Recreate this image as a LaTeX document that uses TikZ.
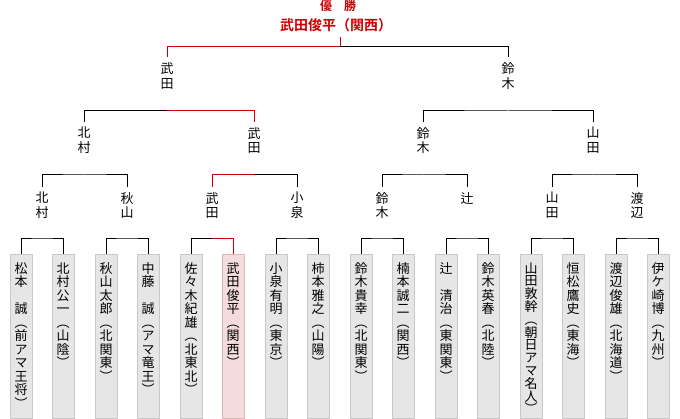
\documentclass[tikz,border=0pt]{standalone}
\usepackage{fontspec}
\usepackage{xcolor}
\usepackage{tikz}
\newfontfamily\jpfont[RawFeature=+vert]{Noto Sans CJK JP}
\newfontfamily\jphfont[BoldFont={Noto Sans CJK JP Bold}]{Noto Sans CJK JP}
\definecolor{winred}{HTML}{CC0000}
\definecolor{boxfill}{HTML}{E6E6E6}
\definecolor{boxline}{HTML}{C8C8C8}
\definecolor{winfill}{HTML}{F5DCDC}
\definecolor{winline}{HTML}{DDB8B8}
\makeatletter
\newcommand\tate[2][13.5pt]{\vbox{\baselineskip=#1\lineskip=0pt\lineskiplimit=-\maxdimen
  \@tfor\tatech:=#2\do{\hbox to 1em{\hss\tatech\hss}}}}
\makeatother
\newcommand\pbox[2][13.5pt]{\vbox to 164pt{\vskip 8pt\tate[#1]{#2}\vss}}

\begin{document}
\begin{tikzpicture}[x=1pt,y=-1pt,
	player/.style={draw=boxline,fill=boxfill,line width=1pt,minimum width=22pt,inner sep=0pt,anchor=north,font=\jpfont\fontsize{13pt}{13.5pt}\selectfont},
	champbox/.style={player,draw=winline,fill=winfill},
	lbl/.style={anchor=north,inner xsep=0pt,inner ysep=5pt,font=\jpfont\fontsize{13pt}{15pt}\selectfont},
	bracket/.style={line width=1pt},
	win/.style={bracket,draw=winred}]
	\useasboundingbox (0,0) rectangle (680,419);
	% title
	\node[text=winred,inner sep=0pt,font=\jphfont\bfseries\fontsize{12pt}{12pt}\selectfont] (title) at (338,6) {優　勝};
	\node[text=winred,inner xsep=0pt,inner ysep=5pt,font=\jphfont\bfseries\fontsize{14pt}{14pt}\selectfont] (champ) at (336,25) {武田俊平（関西）};
	% players
	\node[player] (p1) at (21,254) {\pbox{松本　誠（前アマ王将）}};
	\node[player] (p2) at (63,254) {\pbox{北村公一（山陰）}};
	\node[player] (p3) at (106,254) {\pbox{秋山太郎（北関東）}};
	\node[player] (p4) at (148,254) {\pbox{中藤　誠（アマ竜王）}};
	\node[player] (p5) at (191,254) {\pbox{佐々木紀雄（北東北）}};
	\node[champbox] (p6) at (233,254) {\pbox{武田俊平（関西）}};
	\node[player] (p7) at (276,254) {\pbox{小泉有明（東京）}};
	\node[player] (p8) at (318,254) {\pbox{柿本雅之（山陽）}};
	\node[player] (p9) at (361,254) {\pbox{鈴木貴幸（北関東）}};
	\node[player] (p10) at (403,254) {\pbox{楠本誠二（関西）}};
	\node[player] (p11) at (446,254) {\pbox{辻　清治（東関東）}};
	\node[player] (p12) at (488,254) {\pbox{鈴木英春（北陸）}};
	\node[player] (p13) at (531,254) {\pbox[12.8pt]{山田敦幹（朝日アマ名人）}};
	\node[player] (p14) at (573,254) {\pbox{恒松鷹史（東海）}};
	\node[player] (p15) at (616,254) {\pbox{渡辺俊雄（北海道）}};
	\node[player] (p16) at (658,254) {\pbox{伊ケ崎博（九州）}};
	% winners of each round
	\node[lbl] (s1) at (42,187) {\tate[14.5pt]{北村}};
	\node[lbl] (s2) at (127,187) {\tate[14.5pt]{秋山}};
	\node[lbl] (s3) at (212,187) {\tate[14.5pt]{武田}};
	\node[lbl] (s4) at (297,187) {\tate[14.5pt]{小泉}};
	\node[lbl] (s5) at (382,187) {\tate[14.5pt]{鈴木}};
	\node[lbl] (s6) at (467,187) {\tate[14.5pt]{辻}};
	\node[lbl] (s7) at (552,187) {\tate[14.5pt]{山田}};
	\node[lbl] (s8) at (637,187) {\tate[14.5pt]{渡辺}};
	\node[lbl] (q1) at (84,122) {\tate[14.5pt]{北村}};
	\node[lbl] (q2) at (254,122) {\tate[14.5pt]{武田}};
	\node[lbl] (q3) at (423,122) {\tate[14.5pt]{鈴木}};
	\node[lbl] (q4) at (593,122) {\tate[14.5pt]{山田}};
	\node[lbl] (f1) at (167,57) {\tate[15pt]{武田}};
	\node[lbl] (f2) at (508,57) {\tate[15pt]{鈴木}};
	\coordinate (fin) at (340,47);
	% brackets
	\foreach \a/\b/\m in {1/2/1,3/4/2,7/8/4,9/10/5,11/12/6,13/14/7,15/16/8}
		\draw[bracket] (p\a.north) |- (s\m |- 0,239) -| (p\b.north);
	\draw[bracket] (p5.north) |- (s3 |- 0,239);
	\draw[win] (s3 |- 0,239) -| (p6.north);
	\foreach \a/\b/\m in {1/2/1,5/6/3,7/8/4}
		\draw[bracket] (s\a.north) |- (q\m |- 0,175) -| (s\b.north);
	\draw[win] (s3.north) |- (q2 |- 0,175);
	\draw[bracket] (q2 |- 0,175) -| (s4.north);
	\draw[bracket] (q3.north) |- (f2 |- 0,111) -| (q4.north);
	\draw[bracket] (q1.north) |- (f1 |- 0,111);
	\draw[win] (f1 |- 0,111) -| (q2.north);
	\draw[win] (f1.north) |- (fin) -- (fin |- champ.south);
	\draw[bracket] (fin) -| (f2.north);
\end{tikzpicture}
\end{document}
